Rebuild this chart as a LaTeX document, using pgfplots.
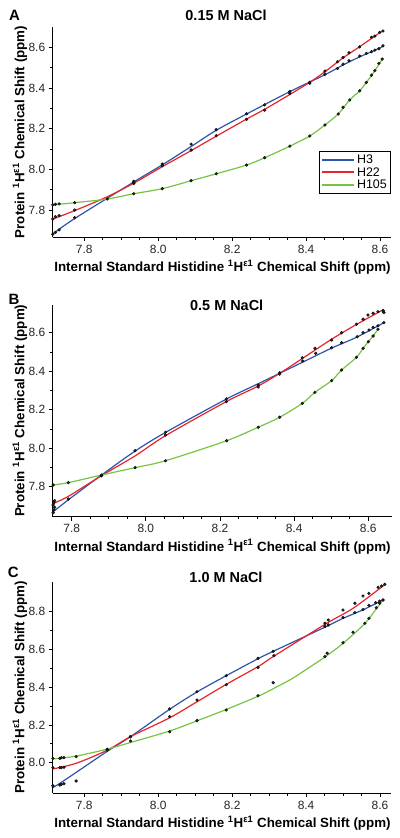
\documentclass[border=0pt]{standalone}
\usepackage{fontspec}
\setmainfont{Liberation Sans}
\usepackage{pgfplots}
\pgfplotsset{compat=1.18}
\definecolor{cHthree}{RGB}{46,84,168}
\definecolor{cHtt}{RGB}{232,36,42}
\definecolor{cHoof}{RGB}{118,196,66}
\pgfplotsset{
  panel/.style={
    scale only axis,
    axis x line*=bottom, axis y line*=left,
    tick align=outside,
    major tick length=4bp, minor tick length=2.5bp,
    every tick/.style={black, line width=0.8bp},
    axis line style={black, line width=0.9bp},
    xtick={7.8,8.0,8.2,8.4,8.6},
    minor x tick num=3, minor y tick num=1,
    ticklabel style={font=\fontsize{12}{14}\selectfont, text=black!85},
    /pgf/number format/fixed, /pgf/number format/precision=1,
    /pgf/number format/fixed zerofill,
    /pgf/number format/assume math mode=true,
    clip=false,
  },
  fitline/.style={line width=1.2bp, smooth, no marks},
  dots/.style={only marks, mark=*, mark size=1.45bp, mark options={fill=black!85, draw=black, line width=0.3bp}},
}
\newcommand{\xlab}{\bfseries\fontsize{13.4}{16}\selectfont Internal Standard Histidine \textsuperscript{1}H\textsuperscript{ε1} Chemical Shift (ppm)}
\newcommand{\ylab}{\bfseries\fontsize{13.4}{16}\selectfont Protein \textsuperscript{1}H\textsuperscript{ε1} Chemical Shift (ppm)}
\begin{document}
\begin{tikzpicture}
\path[use as bounding box] (0,0) rectangle (400bp,-838bp);
% ---------------- Panel A ----------------
\begin{axis}[panel, at={(52.7bp,-237.3bp)}, anchor=south west,
  width=338bp, height=210.6bp,
  xmin=7.7146, xmax=8.6289, ymin=7.6658, ymax=8.7012,
  ytick={7.8,8.0,8.2,8.4,8.6},
  legend style={at={(1,0.411)}, anchor=north east, draw=black, line width=0.8bp,
    font=\fontsize{12.5}{14}\selectfont, inner sep=1.5bp, row sep=-1.5bp, cells={anchor=west}},
  legend image code/.code={\draw[#1, line width=2bp] (0bp,0bp) -- (32bp,0bp);},
]
\addplot[fitline, cHthree] coordinates {(7.713,7.680) (7.774,7.758) (7.934,7.938) (8.011,8.022) (8.089,8.112) (8.157,8.192) (8.239,8.272) (8.356,8.382) (8.451,8.465) (8.500,8.513) (8.545,8.553) (8.586,8.585) (8.608,8.605)};
\addlegendentry{H3}
\addplot[fitline, cHtt] coordinates {(7.713,7.754) (7.774,7.797) (7.862,7.865) (7.934,7.932) (8.011,8.013) (8.089,8.092) (8.157,8.163) (8.239,8.247) (8.288,8.295) (8.356,8.368) (8.410,8.428) (8.451,8.480) (8.500,8.548) (8.545,8.603) (8.586,8.655) (8.608,8.681)};
\addlegendentry{H22}
\addplot[fitline, cHoof] coordinates {(7.715,7.825) (7.774,7.836) (7.862,7.854) (7.934,7.880) (8.011,7.905) (8.089,7.944) (8.157,7.978) (8.239,8.021) (8.288,8.057) (8.356,8.114) (8.410,8.164) (8.451,8.218) (8.487,8.272) (8.518,8.341) (8.545,8.386) (8.563,8.427) (8.586,8.485) (8.606,8.542)};
\addlegendentry{H105}
\addplot[dots, forget plot] table {
7.715 7.681
7.722 7.690
7.732 7.702
7.774 7.762
7.934 7.941
7.934 7.931
8.011 8.026
8.089 8.124
8.157 8.195
8.239 8.273
8.288 8.317
8.356 8.383
8.410 8.423
8.451 8.467
8.485 8.496
8.500 8.517
8.516 8.534
8.545 8.557
8.563 8.570
8.577 8.578
8.586 8.586
8.597 8.593
8.608 8.607
};
\addplot[dots, forget plot] table {
7.715 7.756
7.722 7.767
7.732 7.772
7.774 7.800
7.934 7.934
8.011 8.018
8.089 8.095
8.157 8.165
8.239 8.246
8.288 8.291
8.356 8.373
8.410 8.428
8.451 8.483
8.485 8.529
8.500 8.550
8.516 8.573
8.545 8.602
8.577 8.649
8.586 8.655
8.599 8.673
8.608 8.680
};
\addplot[dots, forget plot] table {
7.715 7.825
7.722 7.828
7.732 7.830
7.774 7.836
7.862 7.854
7.934 7.880
8.011 7.905
8.089 7.944
8.157 7.978
8.239 8.021
8.288 8.057
8.356 8.114
8.410 8.164
8.451 8.218
8.487 8.272
8.500 8.305
8.518 8.341
8.545 8.386
8.563 8.427
8.577 8.463
8.586 8.485
8.597 8.521
8.606 8.542
};
\end{axis}
% ---------------- Panel B ----------------
\begin{axis}[panel, at={(52.7bp,-516.7bp)}, anchor=south west,
  width=339bp, height=211.7bp,
  xmin=7.7488, xmax=8.6631, ymin=7.6442, ymax=8.7439,
  ytick={7.8,8.0,8.2,8.4,8.6},
]
\addplot[fitline, cHthree] coordinates {(7.749,7.668) (7.791,7.732) (7.880,7.860) (7.971,7.985) (8.053,8.082) (8.217,8.255) (8.303,8.335) (8.423,8.447) (8.501,8.520) (8.570,8.578) (8.642,8.652)};
\addplot[fitline, cHtt] coordinates {(7.749,7.712) (7.791,7.750) (7.880,7.857) (7.971,7.960) (8.053,8.065) (8.217,8.242) (8.303,8.323) (8.361,8.389) (8.423,8.467) (8.501,8.566) (8.570,8.645) (8.642,8.721)};
\addplot[fitline, cHoof] coordinates {(7.750,7.809) (7.791,7.821) (7.881,7.861) (7.971,7.899) (8.053,7.935) (8.218,8.039) (8.303,8.109) (8.361,8.161) (8.422,8.233) (8.456,8.290) (8.501,8.351) (8.528,8.406) (8.568,8.472) (8.586,8.519) (8.600,8.553) (8.613,8.583) (8.626,8.618)};
\addplot[dots] table {
7.750 7.665
7.752 7.680
7.754 7.693
7.791 7.736
7.880 7.857
7.971 7.987
8.053 8.083
8.217 8.256
8.303 8.328
8.361 8.392
8.423 8.453
8.458 8.493
8.501 8.522
8.528 8.548
8.570 8.579
8.586 8.600
8.602 8.614
8.613 8.628
8.626 8.636
8.642 8.652
};
\addplot[dots] table {
7.750 7.705
7.752 7.718
7.754 7.728
7.880 7.857
8.053 8.069
8.217 8.242
8.303 8.318
8.361 8.385
8.422 8.470
8.456 8.519
8.501 8.562
8.528 8.600
8.568 8.644
8.586 8.670
8.599 8.692
8.613 8.701
8.626 8.709
8.640 8.714
8.642 8.705
};
\addplot[dots] table {
7.750 7.809
7.791 7.821
7.881 7.861
7.971 7.899
8.053 7.935
8.218 8.039
8.303 8.109
8.361 8.161
8.422 8.233
8.456 8.290
8.501 8.351
8.528 8.406
8.568 8.472
8.586 8.519
8.600 8.553
8.613 8.583
8.626 8.618
};
\end{axis}
% ---------------- Panel C ----------------
\begin{axis}[panel, at={(52.7bp,-793.3bp)}, anchor=south west,
  width=338bp, height=211.6bp,
  xmin=7.7146, xmax=8.6289, ymin=7.8379, ymax=8.9589,
  ytick={8.0,8.2,8.4,8.6,8.8},
]
\addplot[fitline, cHthree] coordinates {(7.715,7.868) (7.745,7.905) (7.862,8.060) (7.925,8.138) (8.031,8.283) (8.105,8.375) (8.184,8.461) (8.270,8.551) (8.311,8.590) (8.451,8.718) (8.500,8.765) (8.554,8.810) (8.608,8.862)};
\addplot[fitline, cHtt] coordinates {(7.715,7.967) (7.778,7.997) (7.862,8.066) (7.925,8.138) (8.031,8.238) (8.105,8.323) (8.184,8.415) (8.270,8.509) (8.311,8.562) (8.451,8.733) (8.527,8.818) (8.612,8.942)};
\addplot[fitline, cHoof] coordinates {(7.715,8.020) (7.778,8.035) (7.862,8.072) (7.925,8.107) (8.031,8.168) (8.105,8.222) (8.184,8.282) (8.270,8.352) (8.311,8.392) (8.361,8.444) (8.405,8.500) (8.451,8.560) (8.500,8.632) (8.559,8.738) (8.590,8.815) (8.608,8.862)};
\addplot[dots] table {
7.715 7.878
7.734 7.882
7.738 7.885
7.745 7.889
7.778 7.903
7.862 8.071
7.925 8.138
8.031 8.285
8.105 8.376
8.184 8.461
8.270 8.553
8.311 8.590
8.451 8.722
8.460 8.730
8.500 8.769
8.532 8.795
8.554 8.812
8.570 8.833
8.588 8.848
8.599 8.856
8.608 8.862
};
\addplot[dots] table {
7.715 7.974
7.734 7.974
7.738 7.974
7.745 7.976
7.925 8.138
8.031 8.244
8.105 8.332
8.184 8.413
8.270 8.505
8.313 8.567
8.451 8.739
8.460 8.756
8.500 8.809
8.532 8.845
8.554 8.883
8.570 8.897
8.595 8.929
8.604 8.936
8.613 8.945
};
\addplot[dots] table {
7.715 8.023
7.734 8.023
7.738 8.027
7.745 8.027
7.778 8.032
7.862 8.067
7.925 8.115
8.031 8.164
8.105 8.223
8.184 8.279
8.270 8.355
8.311 8.424
8.451 8.562
8.457 8.580
8.500 8.636
8.527 8.691
8.559 8.738
8.570 8.765
8.590 8.821
8.599 8.845
8.608 8.862
};
\end{axis}
% ---------------- Text ----------------
\node[font=\bfseries\fontsize{15}{18}\selectfont] at (14.5bp,-15.3bp) {A};
\node[font=\bfseries\fontsize{15}{18}\selectfont] at (14bp,-299.5bp) {B};
\node[font=\bfseries\fontsize{15}{18}\selectfont] at (13.3bp,-572bp) {C};
\node[font=\bfseries\fontsize{14.5}{17}\selectfont] at (226bp,-15bp) {0.15 M NaCl};
\node[font=\bfseries\fontsize{14.5}{17}\selectfont] at (226.7bp,-305.5bp) {0.5 M NaCl};
\node[font=\bfseries\fontsize{14.5}{17}\selectfont] at (226bp,-577.5bp) {1.0 M NaCl};
\node at (222.5bp,-267.3bp) {\xlab};
\node at (222.5bp,-546.7bp) {\xlab};
\node at (222.5bp,-823.3bp) {\xlab};
\node[rotate=90] at (20bp,-132bp) {\ylab};
\node[rotate=90] at (20bp,-410.8bp) {\ylab};
\node[rotate=90] at (20bp,-687.5bp) {\ylab};
\end{tikzpicture}
\end{document}
